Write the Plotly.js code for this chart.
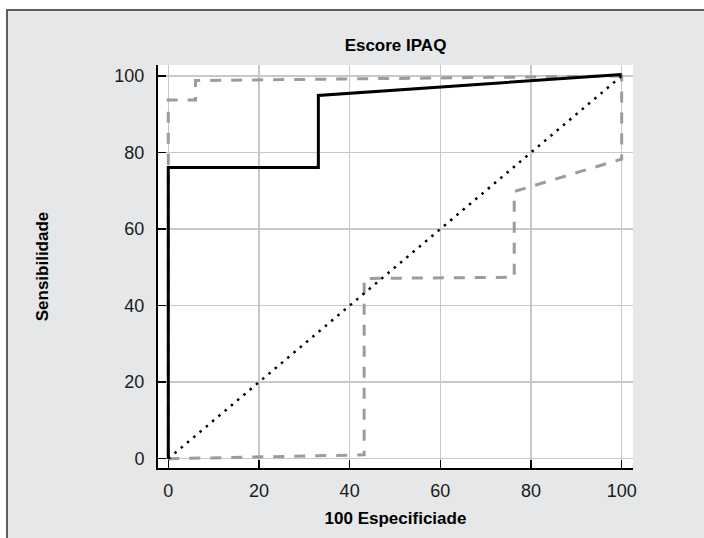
<!DOCTYPE html>
<html>
<head>
<meta charset="utf-8">
<script src="https://cdn.plot.ly/plotly-3.0.1.min.js"></script>
<style>
  html, body { margin: 0; padding: 0; background: #ffffff; }
  #wrap { position: relative; width: 704px; height: 538px; overflow: hidden; background: #ffffff; }
  #frame { position: absolute; left: 6px; top: 9px; width: 800px; height: 700px;
           background: #e6e7e8; border-left: 2px solid #5e5e5e; border-top: 2px solid #5e5e5e; }
  #plot { position: absolute; left: 0; top: 0; width: 704px; height: 538px; }
</style>
</head>
<body>
<div id="wrap">
  <div id="frame"></div>
  <div id="plot"></div>
</div>
<script>
// ---- data ----
const chartTitle = "Escore IPAQ";
const xTitle = "100 Especificiade";
const yTitle = "Sensibilidade";

const tickValues = [0, 20, 40, 60, 80, 100];
const tickLabels = ["0", "20", "40", "60", "80", "100"];

// ROC curve (solid black)
const rocX = [0, 0, 33.1, 33.1, 100];
const rocY = [0, 76.1, 76.1, 94.9, 100.4];

// reference diagonal (dotted)
const diagX = [0, 100];
const diagY = [0, 100];

// upper confidence bound (grey dashed)
const upperX = [0, 0, 6.0, 6.0, 100];
const upperY = [0, 93.7, 93.7, 98.8, 100];

// lower confidence bound (grey dashed)
const lowerX = [0, 43.2, 43.2, 76.3, 76.3, 100, 100];
const lowerY = [0, 1.0, 47.1, 47.4, 69.8, 78.3, 100.3];

const FONT = "Liberation Sans, Arial, Helvetica, sans-serif";
const dashGrey = "#9c9c9c";

const traces = [
  { x: upperX, y: upperY, mode: "lines", line: { color: dashGrey, width: 3, dash: "11px,10px" }, name: "upper" },
  { x: lowerX, y: lowerY, mode: "lines", line: { color: dashGrey, width: 3, dash: "11px,10px" }, name: "lower" },
  { x: diagX, y: diagY, mode: "lines", line: { color: "#000000", width: 2.5, dash: "2.5px,5.7px" }, name: "diagonal" },
  { x: rocX, y: rocY, mode: "lines", line: { color: "#000000", width: 3 }, name: "ROC" }
];

const axisCommon = {
  tickmode: "array",
  tickvals: tickValues,
  ticktext: tickLabels,
  ticks: "inside",
  ticklen: 8,
  tickwidth: 1.5,
  tickcolor: "#000000",
  showline: true,
  linecolor: "#000000",
  linewidth: 2,
  showgrid: true,
  gridcolor: "#c8c8c8",
  gridwidth: 1.5,
  zeroline: false,
  tickfont: { family: FONT, size: 18, color: "#1a1a1a" },
  fixedrange: true
};

const layout = {
  width: 704,
  height: 538,
  margin: { l: 158, r: 71, t: 65, b: 70, pad: 0 },
  paper_bgcolor: "rgba(0,0,0,0)",
  plot_bgcolor: "#ffffff",
  showlegend: false,
  hovermode: false,
  title: {
    text: chartTitle,
    font: { family: FONT, size: 17, color: "#000000", weight: "bold" },
    x: 0.5, xref: "paper", xanchor: "center",
    y: 1 - 45 / 538, yref: "container", yanchor: "middle"
  },
  xaxis: Object.assign({}, axisCommon, {
    range: [-2.27, 102.5],
    ticklabelstandoff: 5,
    title: { text: xTitle, font: { family: FONT, size: 17, color: "#000000", weight: "bold" }, standoff: 13 }
  }),
  yaxis: Object.assign({}, axisCommon, {
    range: [-2.43, 102.87],
    ticklabelstandoff: 8,
    title: { text: yTitle, font: { family: FONT, size: 17, color: "#000000", weight: "bold" }, standoff: 61 }
  })
};

Plotly.newPlot("plot", traces, layout, { displayModeBar: false, staticPlot: true });
</script>
</body>
</html>
